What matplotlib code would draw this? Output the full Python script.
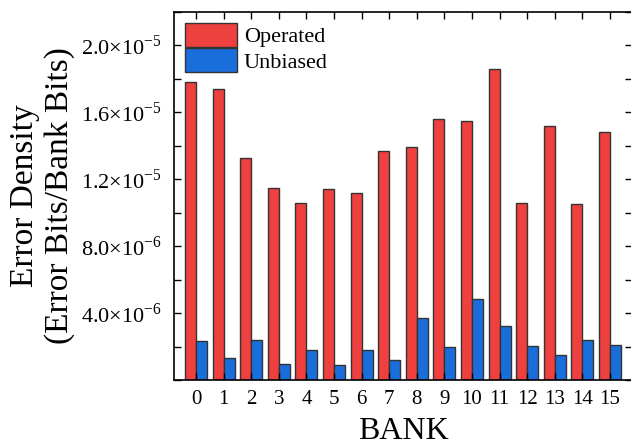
import matplotlib
matplotlib.use("Agg")
import matplotlib.pyplot as plt
import numpy as np
from matplotlib.ticker import MultipleLocator, FuncFormatter

banks = [str(i) for i in range(16)]
operated = [1.78e-5, 1.74e-5, 1.33e-5, 1.15e-5, 1.06e-5, 1.14e-5, 1.12e-5, 1.37e-5,
            1.39e-5, 1.56e-5, 1.55e-5, 1.86e-5, 1.06e-5, 1.52e-5, 1.05e-5, 1.48e-5]
unbiased = [2.33e-6, 1.32e-6, 2.37e-6, 0.98e-6, 1.82e-6, 0.92e-6, 1.82e-6, 1.18e-6,
            3.71e-6, 2.00e-6, 4.85e-6, 3.21e-6, 2.05e-6, 1.49e-6, 2.41e-6, 2.09e-6]

plt.rcParams['font.family'] = 'Liberation Serif'
plt.rcParams['mathtext.fontset'] = 'custom'
plt.rcParams['mathtext.rm'] = 'Liberation Serif'

fig = plt.figure(figsize=(6.31, 4.45), dpi=100)
ax = fig.add_axes([174 / 631, 65 / 445, 458 / 631, 368 / 445])

x = np.arange(len(banks))
w = 0.4
ax.bar(x - w / 2, operated, w, color='#ef4040', edgecolor='#333333', linewidth=1, label='Operated')
ax.bar(x + w / 2, unbiased, w, color='#1a6edb', edgecolor='#333333', linewidth=1, label='Unbiased')

ax.set_xlim(-0.8, 15.8)
ax.set_ylim(0, 2.2e-5)
ax.set_xticks(x)
ax.set_xticklabels(banks)
ax.yaxis.set_major_locator(MultipleLocator(4e-6))
ax.yaxis.set_minor_locator(MultipleLocator(2e-6))


def sci(v, pos):
    if v <= 0:
        return ''
    e = int(np.floor(np.log10(v) + 1e-9))
    m = v / 10 ** e
    return '%.1f×10$^{\\mathregular{%d}}$' % (m, e)


ax.yaxis.set_major_formatter(FuncFormatter(sci))
ax.tick_params(axis='both', which='both', direction='in', top=True, right=True,
               length=5, width=1, labelsize=15)
ax.tick_params(axis='x', pad=7)
ax.tick_params(axis='y', pad=9, labelsize=16)
for s in ax.spines.values():
    s.set_linewidth(1.2)

ax.set_xlabel('BANK', fontsize=23, labelpad=6)
ax.set_ylabel('Error Density\n(Error Bits/Bank Bits)', fontsize=24, labelpad=4)

ax.legend(loc='upper left', frameon=False, fontsize=16, handlelength=2.35,
          handleheight=1.25, labelspacing=0.05, handletextpad=0.3,
          borderaxespad=0.3, borderpad=0.2)

fig.savefig('out.png', dpi=100)
